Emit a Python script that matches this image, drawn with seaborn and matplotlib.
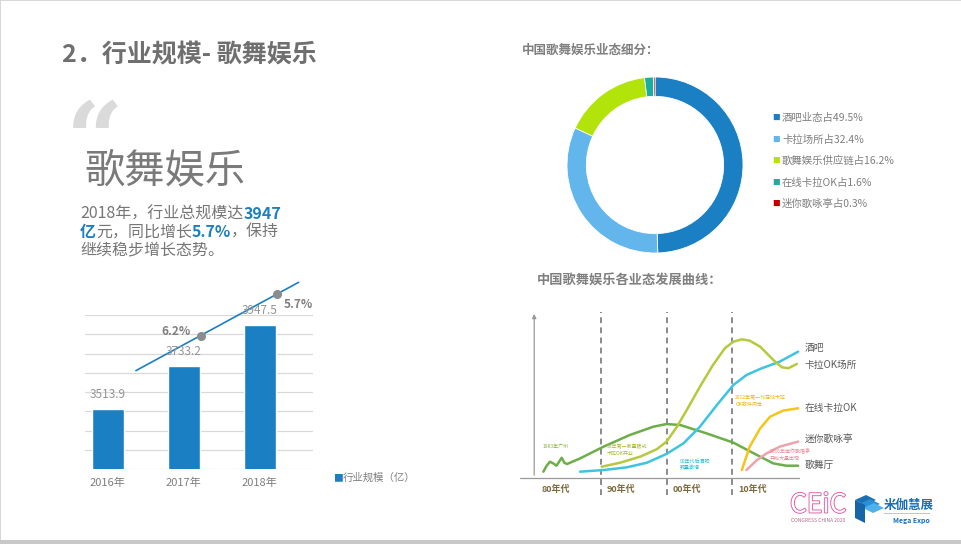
import numpy as np
import pandas as pd
import seaborn as sns
import matplotlib.pyplot as plt
from matplotlib.patches import Rectangle, Polygon, FancyArrowPatch
import matplotlib.patheffects as pe

# ---- data ----
years = ["2016年", "2017年", "2018年"]
market_size = [3513.9, 3733.2, 3947.5]
growth_labels = ["6.2%", "5.7%"]

segments = ["酒吧业态占49.5%", "卡拉场所占32.4%", "歌舞娱乐供应链占16.2%", "在线卡拉OK占1.6%", "迷你歌咏亭占0.3%"]
segment_share = [49.5, 32.4, 16.2, 1.6, 0.3]
segment_colors = ["#1a7fc3", "#63b6ec", "#b2e30b", "#1aaea0", "#c00000"]

decades = ["80年代", "90年代", "00年代", "10年代"]
decade_starts = [1980, 1990, 2000, 2010]

dance_x = [1981.2, 1981.7, 1982.2, 1982.7, 1983.2, 1983.6, 1984.0, 1984.4, 1984.8, 1986.8, 1990.4,
           1994.4, 1998.0, 2000.0, 2002.1, 2006.1, 2010.2, 2013.3, 2016.3, 2018.3, 2020.1]
dance_y = [3.8, 7.4, 9.8, 8.8, 7.4, 9.8, 12.2, 9.2, 8.4, 11.8, 18.9,
           25.9, 30.9, 32.5, 31.9, 26.9, 21.3, 14.9, 8.8, 7.4, 7.4]
bar_x = [1990.1, 1992.9, 1996.0, 1998.5, 2000.0, 2001.6, 2003.1, 2005.1, 2007.1, 2008.9, 2010.2,
         2011.5, 2012.7, 2014.3, 2016.3, 2017.6, 2018.6, 2019.9]
bar_y = [6.8, 9.2, 12.9, 17.3, 21.9, 30.9, 41.0, 55.0, 68.1, 78.1, 82.1,
         83.5, 82.7, 79.1, 71.1, 66.7, 66.1, 68.7]
ktv_x = [1986.8, 1990.4, 1993.9, 1997.0, 2000.0, 2002.6, 2005.1, 2007.7, 2010.2, 2012.2, 2014.3, 2017.3, 2020.1]
ktv_y = [3.8, 4.8, 6.4, 9.2, 14.5, 20.9, 30.9, 44.0, 56.0, 62.0, 65.7, 70.1, 76.1]
online_x = [2011.5, 2012.7, 2014.3, 2015.8, 2017.8, 2020.1]
online_y = [4.8, 18.9, 29.9, 36.9, 40.6, 42.0]
mini_x = [2012.2, 2013.8, 2015.3, 2017.3, 2020.1]
mini_y = [4.8, 10.8, 14.9, 18.9, 21.9]

curve_names = ["酒吧", "卡拉OK场所", "在线卡拉OK", "迷你歌咏亭", "歌舞厅"]

notes = [
    ("1983年广州", "#8db03a", 1981.0, 18.5),
    ("93年第一家量贩式\n卡拉OK开业", "#a9b832", 1990.8, 17.0),
    ("90年代后酒吧\n数量激增", "#2eb8d4", 2002.0, 8.0),
    ("2012年第一代在线卡拉\nOK软件问世", "#f0b400", 2010.5, 46.5),
    ("2016年迷你歌唱亭\n开始大量出现", "#e88a99", 2015.7, 14.0),
]

W, H = 962, 544
GRAY = "#767676"
BLUE = "#1a7fc3"

sns.set_theme(style="white")
plt.rcParams["font.family"] = ["Noto Sans CJK SC", "DejaVu Sans"]

fig = plt.figure(figsize=(W / 100, H / 100), dpi=100)
fig.patch.set_facecolor("white")


def rect(x0, y0, x1, y1):
    # pixel box (top-left origin) -> figure fraction
    return [x0 / W, 1 - y1 / H, (x1 - x0) / W, (y1 - y0) / H]


def ftxt(x, y, s, **kw):
    return fig.text(x / W, 1 - y / H, s, **kw)


# slide frame
fig.add_artist(Rectangle((0, 0), 1, 1, transform=fig.transFigure, fill=False, edgecolor="#d0d0d0", lw=1.2))
fig.add_artist(Rectangle((0, 0), 1, 4 / H, transform=fig.transFigure, color="#c8c8c8", lw=0))

# ---- left texts ----
ftxt(62, 55, "2．行业规模- 歌舞娱乐", fontsize=18, fontweight="bold", color="#6f6f6f", va="center")
ftxt(66, 97, "\u201c", fontsize=72, fontweight="bold", family="DejaVu Serif", color="#dadada", va="top")
ftxt(84, 171, "歌舞娱乐", fontsize=29, color="#7a7a7a", va="center")

renderer = fig.canvas.get_renderer()


def rich_line(x_px, y_px, parts, size=11.5):
    x = x_px
    for s, color, weight in parts:
        t = ftxt(x, y_px, s, fontsize=size, color=color, fontweight=weight, va="center")
        bb = t.get_window_extent(renderer)
        x = bb.x1


rich_line(80, 214, [("2018年，行业总规模达", GRAY, "normal"), ("3947", BLUE, "bold")])
rich_line(80, 232, [("亿", BLUE, "bold"), ("元，同比增长", GRAY, "normal"), ("5.7%", BLUE, "bold"),
                    ("，保持", GRAY, "normal")])
rich_line(80, 250, [("继续稳步增长态势。", GRAY, "normal")])

# ---- bar chart ----
ax = fig.add_axes(rect(85, 315, 313, 469))
sns.barplot(x=years, y=market_size, color=BLUE, saturation=1, width=0.42, ax=ax)
ax.set_ylim(3200, 4000)
ax.set_xlim(-0.3, 2.7)
ax.set_yticks(np.arange(3200, 4001, 100))
ax.set_yticklabels([])
ax.grid(axis="y", color="#d9d9d9", lw=0.9)
ax.set_axisbelow(True)
for sp in ax.spines.values():
    sp.set_visible(False)
ax.tick_params(axis="both", length=0)
ax.tick_params(axis="x", labelsize=8, labelcolor="#7f7f7f", pad=6)
ax.set_xlabel("")
ax.set_ylabel("")
for i, v in enumerate(market_size):
    ax.text(i, v + 75, f"{v}", ha="center", va="center", fontsize=8.5, color="#959595")

# growth trend line
mx = np.array([1.22, 2.22])
my = np.array(market_size[1:]) + 160
k, b = np.polyfit(mx, my, 1)
lx = np.array([0.37, 2.51])
ax.plot(lx, k * lx + b, color=BLUE, lw=1.2, clip_on=False)
ax.plot(mx, my, "o", color="#8c8c8c", ms=5.5, clip_on=False, zorder=5)
ax.text(mx[0] - 0.13, my[0] + 20, growth_labels[0], ha="right", va="center", fontsize=8.5,
        fontweight="bold", color="#7f7f7f")
ax.text(mx[1] + 0.1, my[1] - 55, growth_labels[1], ha="left", va="center", fontsize=8.5,
        fontweight="bold", color="#7f7f7f", clip_on=False)

ftxt(333, 478, "■", fontsize=7, color=BLUE, va="center")
ftxt(343, 478, "行业规模（亿）", fontsize=7.5, color="#7f7f7f", va="center")

# ---- donut ----
ftxt(522, 50, "中国歌舞娱乐业态细分：", fontsize=9, fontweight="bold", color="#7f7f7f", va="center")
ax2 = fig.add_axes(rect(567, 77, 743, 253))
ax2.pie(segment_share, colors=segment_colors, startangle=90, counterclock=False, radius=1,
        wedgeprops=dict(width=0.22, edgecolor="white", linewidth=0.6))
ax2.set_xlim(-1, 1)
ax2.set_ylim(-1, 1)
ax2.set_aspect("equal")
for i, (lab, col) in enumerate(zip(segments, segment_colors)):
    y = 118 + i * 21.5
    ftxt(772, y, "■", fontsize=5.5, color=col, va="center")
    ftxt(782, y, lab, fontsize=7.5, color="#7f7f7f", va="center")

# ---- development curves ----
ftxt(537, 281, "中国歌舞娱乐各业态发展曲线：", fontsize=9.5, fontweight="bold", color="#7f7f7f", va="center")
ax3 = fig.add_axes(rect(520, 300, 800, 500))
ax3.set_xlim(1977.63, 2020.38)
ax3.set_ylim(-13.25, 107.2)
ax3.axis("off")

ax3.add_patch(FancyArrowPatch((1979.8, 0), (1979.8, 100.5), arrowstyle="-|>", mutation_scale=6,
                              color="#9a9a9a", lw=0.9))
ax3.plot([1977.63, 2020.38], [0, 0], color="#9a9a9a", lw=0.9)
for d in decade_starts[1:]:
    ax3.plot([d, d], [-10.5, 100], color="#8a8a8a", lw=1.4, ls=(0, (3, 2.2)))
for lab, d in zip(decades, decade_starts):
    ax3.text(d + 3.1, -6.6, lab, ha="center", va="center", fontsize=6.5, fontweight="bold", color="#7d6a3c")

curves = [
    (dance_x, dance_y, "#6cae47"),
    (ktv_x, ktv_y, "#3dc4df"),
    (bar_x, bar_y, "#b6c93c"),
    (online_x, online_y, "#f4c51a"),
    (mini_x, mini_y, "#eba4ac"),
]
for xs, ys, col in curves:
    sns.lineplot(x=xs, y=ys, ax=ax3, color=col, lw=1.8, sort=False, estimator=None)

for name, yv in zip(curve_names, [78.3, 68.1, 42.2, 23.5, 7.8]):
    ax3.text(2021.1, yv, name, ha="left", va="center", fontsize=7, color="#595959", clip_on=False)

for s, col, x, y in notes:
    ax3.text(x, y, s, ha="left", va="center", fontsize=3.6, color=col, linespacing=1.3)

# ---- logos ----
ftxt(790, 505, "CEiC", fontsize=19, color="white", va="center",
     path_effects=[pe.withStroke(linewidth=1.3, foreground="#e05aa5")])
ftxt(791, 520, "CONGRESS CHINA 2020", fontsize=3.6, color="#b07090", va="center")
for j, sh in enumerate([0, 4, 8]):
    fig.add_artist(Polygon([((855 + sh) / W, 1 - (500 + sh) / H), ((866 + sh) / W, 1 - (495 + sh) / H),
                            ((876 + sh) / W, 1 - (500 + sh) / H), ((865 + sh) / W, 1 - (505 + sh) / H)],
                           closed=True, transform=fig.transFigure,
                           color=["#1a6fb5", "#2b8fd6", "#4fb0ea"][j], lw=0))
fig.add_artist(Polygon([(855 / W, 1 - 500 / H), (865 / W, 1 - 505 / H), (865 / W, 1 - 523 / H),
                        (855 / W, 1 - 518 / H)], closed=True, transform=fig.transFigure,
                       color="#1565a8", lw=0))
ftxt(884, 505, "米伽慧展", fontsize=9, fontweight="bold", color="#1a6fb5", va="center")
fig.add_artist(Rectangle((884 / W, 1 - 514 / H), 46 / W, 1.2 / H, transform=fig.transFigure,
                         color="#9fd0f0", lw=0))
ftxt(893, 521, "Mega Expo", fontsize=5, fontweight="bold", color="#1a6fb5", va="center")

fig.savefig("out.png", dpi=100, facecolor="white")
